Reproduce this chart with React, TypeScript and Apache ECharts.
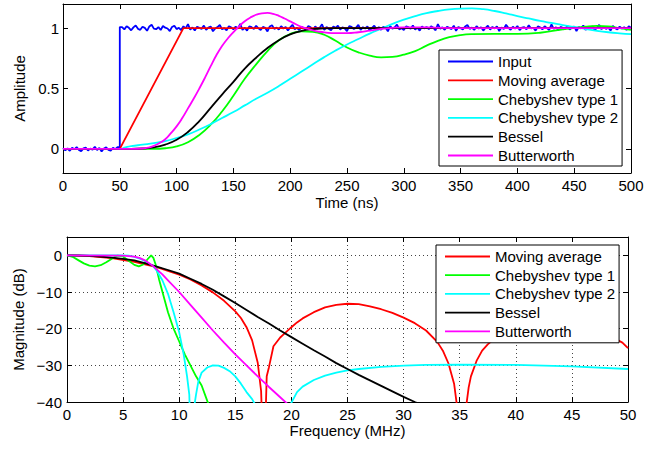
import { useEffect, useRef } from "react";
import * as echarts from "echarts";

// ---------- Time-domain data (step responses) ----------
const inputPreStartTime = 0;
const inputPreStepValues = [
  0.006, -0.012, 0.003, -0.016, 0.009, -0.004, 0.014, -0.009, -0.02, 0.004, 0.01, -0.014, 0.002,
  -0.006, 0.018, -0.01, 0.008, -0.022, 0.003, 0.012, -0.008, -0.015, 0.009, -0.003, 0.015,
];
const inputStepTime = 50;
const inputPostStartTime = 52;
const inputSampleNs = 2;
const inputPostStepValues = [
  1.009, 0.990, 1.016, 1.003, 0.982, 1.006, 1.022, 0.994, 0.986, 1.012, 1.002, 0.978, 1.014, 1.028, 0.996,
  0.991, 1.008, 0.985, 1.018, 1.004, 0.997, 0.976, 1.010, 1.020, 0.992, 1.003, 0.984, 1.015, 0.998, 1.033,
  0.988, 1.006, 0.980, 1.012, 1.002, 0.994, 1.021, 0.985, 1.004, 1.014, 0.974, 0.997, 1.009, 1.026, 0.991,
  1.000, 0.982, 1.016, 1.006, 0.990, 1.012, 0.996, 1.036, 0.986, 1.003, 0.979, 1.015, 1.008, 0.992, 1.020,
  0.998, 0.985, 1.010, 1.002, 0.973, 1.014, 1.024, 0.994, 1.004, 0.988, 1.016, 0.997, 1.009, 0.980, 1.006,
  1.028, 0.991, 1.003, 0.984, 1.012, 1.000, 0.990, 1.018, 1.008, 0.978, 1.015, 0.996, 1.004, 1.032, 0.986,
  1.009, 0.994, 0.982, 1.014, 1.003, 1.021, 0.988, 1.006, 0.998, 0.976, 1.016, 1.010, 0.992, 1.004, 1.027,
  0.985, 1.008, 0.997, 1.015, 0.980, 1.002, 1.020, 0.991, 1.009, 0.986, 1.012, 1.003, 0.974, 1.018, 0.996,
  1.006, 1.030, 0.990, 1.000, 0.984, 1.014, 1.008, 0.994, 1.022, 0.988, 1.004, 0.979, 1.015, 0.998, 1.010,
  0.991, 1.016, 1.003, 0.982, 1.034, 0.996, 1.006, 0.986, 1.012, 1.002, 0.992, 1.020, 0.978, 1.009, 1.000,
  0.990, 1.014, 1.026, 0.994, 1.004, 0.985, 1.016, 0.997, 1.008, 0.980, 1.003, 1.021, 0.988, 1.010, 0.998,
  1.015, 0.976, 1.006, 0.992, 1.028, 1.002, 0.986, 1.012, 0.996, 1.018, 0.984, 1.004, 1.009, 0.991, 1.024,
  0.997, 1.003, 0.979, 1.014, 1.006, 0.990, 1.016, 1.000, 0.985, 1.032, 0.994, 1.008, 0.982, 1.010, 1.003,
  0.992, 1.020, 0.988, 1.004, 1.014, 0.976, 1.009, 0.998, 1.022, 0.986, 1.006, 0.996, 1.015, 0.984, 1.002,
  1.027, 0.991, 1.010, 0.994, 1.004, 0.980, 1.018, 1.000, 0.990, 1.012, 0.997, 1.008, 0.985, 1.016, 1.003,
];

const movingAvgTime = [0, 50, 106, 500];
const movingAvgStep = [0, 0, 1, 1];

const cheby1Time = [0, 80, 90, 100, 110, 120, 130, 140, 150, 160, 170, 180, 190, 200, 210, 220, 230, 240, 250, 260, 270, 280, 290, 300, 310, 320, 330, 340, 350, 360, 380, 400, 420, 440, 460, 470, 480, 490, 500];
const cheby1Step = [0, 0, 0.005, 0.02, 0.055, 0.115, 0.2, 0.31, 0.44, 0.58, 0.7, 0.81, 0.9, 0.952, 0.973, 0.97, 0.945, 0.895, 0.84, 0.8, 0.772, 0.758, 0.762, 0.78, 0.81, 0.855, 0.895, 0.925, 0.943, 0.95, 0.952, 0.952, 0.962, 0.99, 1.012, 1.018, 1.015, 1.0, 0.985];

const cheby2Time = [0, 50, 55, 60, 70, 80, 90, 100, 110, 120, 130, 140, 150, 160, 170, 180, 190, 200, 210, 220, 230, 240, 250, 260, 270, 280, 290, 300, 310, 320, 330, 340, 350, 360, 370, 380, 390, 400, 410, 420, 430, 440, 450, 460, 470, 480, 490, 500];
const cheby2Step = [0, 0, 0.012, 0.022, 0.035, 0.048, 0.065, 0.09, 0.12, 0.16, 0.205, 0.255, 0.305, 0.36, 0.415, 0.465, 0.52, 0.58, 0.64, 0.7, 0.76, 0.815, 0.865, 0.91, 0.955, 0.995, 1.035, 1.07, 1.1, 1.125, 1.142, 1.155, 1.162, 1.164, 1.157, 1.142, 1.122, 1.1, 1.08, 1.06, 1.043, 1.025, 1.01, 0.993, 0.978, 0.966, 0.957, 0.95];

const besselTime = [0, 60, 70, 80, 90, 100, 110, 120, 130, 140, 150, 160, 170, 180, 190, 200, 210, 220, 230, 240, 260, 300, 500];
const besselStep = [0, 0, 0.003, 0.012, 0.035, 0.075, 0.14, 0.23, 0.34, 0.45, 0.555, 0.665, 0.755, 0.835, 0.9, 0.948, 0.977, 0.992, 0.998, 1.0, 1.0, 1.0, 1.0];

const butterTime = [0, 60, 70, 75, 80, 85, 90, 95, 100, 105, 110, 115, 120, 125, 130, 135, 140, 145, 150, 155, 160, 165, 170, 175, 180, 185, 190, 195, 200, 205, 210, 215, 220, 225, 230, 240, 250, 260, 270, 280, 290, 300, 320, 350, 400, 450, 500];
const butterStep = [0, 0, 0.003, 0.01, 0.025, 0.049, 0.08, 0.13, 0.186, 0.255, 0.335, 0.415, 0.5, 0.59, 0.685, 0.775, 0.852, 0.914, 0.967, 1.015, 1.057, 1.088, 1.111, 1.123, 1.126, 1.119, 1.102, 1.08, 1.056, 1.032, 1.011, 0.995, 0.982, 0.972, 0.965, 0.958, 0.958, 0.966, 0.98, 0.994, 1.003, 1.007, 1.006, 1.0, 1.0, 1.0, 1.0];

// ---------- Frequency-domain data (magnitude, dB) ----------
const movingAvgFreq = [0, 2, 4, 6, 8, 10, 11, 12, 13, 14, 15, 15.5, 16, 16.5, 17, 17.3, 17.55, 17.8, 18, 18.4, 19, 19.4, 20, 20.5, 21, 22, 23, 24, 25, 26, 27, 28, 29, 30, 31, 32, 33, 33.5, 34, 34.5, 34.8, 35.2, 35.5, 35.8, 36, 36.5, 37, 37.5, 38, 39, 40, 41, 42, 43, 44, 45, 46, 47, 48, 49, 49.5, 50];
const movingAvgDb = [0, -0.19, -0.76, -1.75, -3.2, -5.3, -6.6, -8.2, -10.1, -12.4, -15.3, -17.1, -19.6, -23.2, -29.3, -37, -60, -33, -30.5, -24.8, -22.4, -21.3, -19.6, -18.3, -17.2, -15.5, -14.2, -13.5, -13.2, -13.3, -13.9, -14.7, -15.7, -17.0, -18.5, -20.5, -23.6, -26.0, -29.5, -35, -42, -60, -43, -36, -33, -28.8, -26, -24.3, -23, -21, -19.6, -18.7, -18.2, -18.0, -18.2, -18.7, -19.5, -20.6, -21.8, -23.0, -23.8, -25.3];

const cheby1Freq = [0, 0.5, 1, 1.5, 2, 2.5, 3, 3.5, 4, 4.5, 5, 5.5, 6, 6.4, 6.8, 7.2, 7.5, 7.7, 7.9, 8.2, 8.6, 9, 9.5, 10, 10.5, 11, 11.5, 12, 12.5, 13];
const cheby1Db = [0, -0.4, -1.3, -2.2, -2.8, -3.0, -2.7, -1.9, -0.9, -0.05, -0.3, -1.5, -2.6, -3.0, -2.5, -1.0, 0, -0.7, -2.5, -6.5, -11, -15.5, -20, -23.5, -27, -30, -33, -35.5, -39.7, -43];

const cheby2Freq = [0, 5, 5.5, 6, 6.5, 7, 7.5, 7.7, 8, 8.5, 9, 9.5, 10, 10.4, 10.7, 10.9, 11.1, 11.3, 11.5, 11.7, 12, 12.5, 13, 13.5, 14, 14.5, 15, 15.5, 16, 16.5, 17, 17.5, 18, 18.5, 19, 19.5, 20, 20.5, 21, 22, 23, 24, 25, 26, 28, 30, 32, 35, 40, 45, 50];
const cheby2Db = [0, -0.02, -0.1, -0.4, -0.9, -1.6, -2.6, -3.0, -4.2, -6.8, -10.5, -15.5, -21, -27, -33, -38, -60, -42, -38, -34.5, -32, -30.6, -30, -30.1, -30.7, -31.6, -33, -35, -37.3, -39.2, -42, -48, -60, -50, -45, -42.5, -40.2, -37.3, -35.8, -34, -32.8, -32, -31.4, -31, -30.4, -30.1, -29.9, -29.8, -29.9, -30.3, -31.0];

const besselFreq = [0, 1, 2, 3, 4, 5, 6, 7, 8, 9, 10, 11, 12, 13, 14, 15, 16, 17, 18, 19, 20, 21, 22, 23, 24, 25, 26, 27, 28, 29, 30, 31, 32];
const besselDb = [0, -0.04, -0.16, -0.35, -0.6, -0.95, -1.4, -2.2, -3.1, -4.0, -5.0, -6.4, -7.8, -9.4, -11.2, -13.0, -14.9, -16.8, -18.6, -20.5, -22.3, -24.1, -25.9, -27.6, -29.4, -31.0, -32.6, -34.1, -35.6, -37.1, -38.6, -40.0, -41.3];

const butterFreq = [0, 5, 6, 6.5, 7, 7.7, 8.5, 9, 10, 11, 12, 13, 14, 15, 16, 17, 18, 19, 20];
const butterDb = [0, -0.07, -0.35, -0.75, -1.45, -3.0, -5.2, -6.8, -10, -13.5, -17, -20.5, -23.8, -27, -30, -33, -35.9, -38.7, -41.5];

// ---------- Axes ----------
const amplitudeTicks = [0, 0.5, 1];
const timeRange = [0, 500];
const timeInterval = 50;
const ampRange = [-0.2, 1.2];
const freqRange = [0, 50];
const freqInterval = 5;
const dbRange = [-40, 5];
const dbInterval = 10;

const topLegendNames = ["Input", "Moving average", "Chebyshev type 1", "Chebyshev type 2", "Bessel", "Butterworth"];
const bottomLegendNames = ["Moving average", "Chebyshev type 1", "Chebyshev type 2", "Bessel", "Butterworth"];

const COLORS: Record<string, string> = {
  "Input": "#0000ff",
  "Moving average": "#ff0000",
  "Chebyshev type 1": "#00ff00",
  "Chebyshev type 2": "#00ffff",
  "Bessel": "#000000",
  "Butterworth": "#ff00ff",
};

const FONT = "'Liberation Sans', Arial, Helvetica, sans-serif";
const LINE_WIDTH = 1.8;

const zip = (xs: number[], ys: number[]) => xs.map((x, i) => [x, ys[i]]);

function buildInput(): number[][] {
  const pts: number[][] = inputPreStepValues.map((v, i) => [inputPreStartTime + inputSampleNs * i, v]);
  pts.push([inputStepTime, inputPreStepValues[inputPreStepValues.length - 1]]);
  pts.push([inputStepTime, inputPostStepValues[0]]);
  inputPostStepValues.forEach((v, i) => {
    const t = inputPostStartTime + inputSampleNs * i;
    if (t <= timeRange[1]) pts.push([t, v]);
  });
  return pts;
}

function lineSeries(name: string, data: number[][], axis: number, smooth: number | boolean = false) {
  const color = COLORS[name];
  return {
    type: "line",
    name,
    data,
    xAxisIndex: axis,
    yAxisIndex: axis,
    symbol: "none",
    showSymbol: false,
    smooth,
    clip: true,
    silent: true,
    lineStyle: { color, width: LINE_WIDTH },
    itemStyle: { color },
    emphasis: { disabled: true },
  };
}

const axisLineStyle = { show: true, onZero: false, lineStyle: { color: "#000", width: 1 } };
const tickInside = { show: true, inside: true, length: 5, lineStyle: { color: "#000", width: 1 } };
const labelStyle = { color: "#000", fontSize: 15, fontFamily: FONT };
const dotted = { show: true, lineStyle: { color: "#444", width: 1, type: [1, 3] } };
const fmtMinus = (v: number) => (v < 0 ? "\u2212" + Math.abs(v) : String(v));

const legendBase = {
  orient: "vertical",
  icon: "rect",
  itemWidth: 45,
  itemHeight: 1.8,
  backgroundColor: "#fff",
  borderColor: "#000",
  borderWidth: 1,
  borderRadius: 0,
  textStyle: { color: "#000", fontSize: 15, fontFamily: FONT },
  selectedMode: false,
};

export default function App() {
  const ref = useRef<HTMLDivElement>(null);

  useEffect(() => {
    if (!ref.current) return;
    const chart = echarts.init(ref.current, null, { renderer: "svg" });

    const option: any = {
      animation: false,
      backgroundColor: "#fff",
      textStyle: { fontFamily: FONT },
      grid: [
        { left: 63, top: 4, width: 568, height: 169, containLabel: false, outerBoundsMode: "none" },
        { left: 67, top: 237, width: 561, height: 165, containLabel: false, outerBoundsMode: "none" },
      ],
      xAxis: [
        {
          type: "value", gridIndex: 0, position: "bottom",
          min: timeRange[0], max: timeRange[1], interval: timeInterval,
          axisLine: axisLineStyle, axisTick: tickInside, splitLine: { show: false },
          axisLabel: { ...labelStyle, margin: 5 },
          name: "Time (ns)", nameLocation: "middle", nameGap: 22,
          nameTextStyle: { ...labelStyle },
        },
        {
          type: "value", gridIndex: 0, position: "top",
          min: timeRange[0], max: timeRange[1], interval: timeInterval,
          axisLine: axisLineStyle, axisTick: tickInside, splitLine: { show: false },
          axisLabel: { show: false },
        },
        {
          type: "value", gridIndex: 1, position: "bottom",
          min: freqRange[0], max: freqRange[1], interval: freqInterval,
          axisLine: axisLineStyle, axisTick: tickInside, splitLine: dotted,
          axisLabel: { ...labelStyle, margin: 5 },
          name: "Frequency (MHz)", nameLocation: "middle", nameGap: 21,
          nameTextStyle: { ...labelStyle },
        },
        {
          type: "value", gridIndex: 1, position: "top",
          min: freqRange[0], max: freqRange[1], interval: freqInterval,
          axisLine: axisLineStyle, axisTick: tickInside, splitLine: { show: false },
          axisLabel: { show: false },
        },
      ],
      yAxis: [
        {
          type: "value", gridIndex: 0, position: "left",
          min: ampRange[0], max: ampRange[1],
          axisLine: axisLineStyle,
          axisTick: { ...tickInside, customValues: amplitudeTicks },
          splitLine: { show: false },
          axisLabel: { ...labelStyle, margin: 4, customValues: amplitudeTicks },
          name: "Amplitude", nameLocation: "middle", nameGap: 29, nameRotate: 90,
          nameTextStyle: { ...labelStyle },
        },
        {
          type: "value", gridIndex: 0, position: "right",
          min: ampRange[0], max: ampRange[1],
          axisLine: axisLineStyle,
          axisTick: { ...tickInside, customValues: amplitudeTicks },
          splitLine: { show: false },
          axisLabel: { show: false },
        },
        {
          type: "value", gridIndex: 1, position: "left",
          min: dbRange[0], max: dbRange[1], interval: dbInterval,
          axisLine: axisLineStyle, axisTick: tickInside, splitLine: dotted,
          axisLabel: { ...labelStyle, margin: 5, formatter: fmtMinus, showMaxLabel: false },
          name: "Magnitude (dB)", nameLocation: "middle", nameGap: 30, nameRotate: 90,
          nameTextStyle: { ...labelStyle },
        },
        {
          type: "value", gridIndex: 1, position: "right",
          min: dbRange[0], max: dbRange[1], interval: dbInterval,
          axisLine: axisLineStyle, axisTick: tickInside, splitLine: { show: false },
          axisLabel: { show: false },
        },
      ],
      legend: [
        { ...legendBase, data: topLegendNames, left: 439, top: 50, padding: [4, 4, 3, 9], itemGap: 3.8 },
        { ...legendBase, data: bottomLegendNames, left: 436, top: 245, padding: [4, 4, 4, 9], itemGap: 3.7 },
      ],
      series: [
        lineSeries("Input", buildInput(), 0),
        lineSeries("Moving average", zip(movingAvgTime, movingAvgStep), 0),
        lineSeries("Chebyshev type 1", zip(cheby1Time, cheby1Step), 0, 0.5),
        lineSeries("Chebyshev type 2", zip(cheby2Time, cheby2Step), 0, 0.5),
        lineSeries("Bessel", zip(besselTime, besselStep), 0, 0.5),
        lineSeries("Butterworth", zip(butterTime, butterStep), 0, 0.5),
        lineSeries("Moving average", zip(movingAvgFreq, movingAvgDb), 2),
        lineSeries("Chebyshev type 1", zip(cheby1Freq, cheby1Db), 2),
        lineSeries("Chebyshev type 2", zip(cheby2Freq, cheby2Db), 2),
        lineSeries("Bessel", zip(besselFreq, besselDb), 2),
        lineSeries("Butterworth", zip(butterFreq, butterDb), 2),
      ],
    };
    chart.setOption(option);
    return () => chart.dispose();
  }, []);

  return (
    <div
      ref={ref}
      style={{ position: "fixed", left: 0, top: 0, width: 668, height: 449, background: "#fff" }}
    />
  );
}
